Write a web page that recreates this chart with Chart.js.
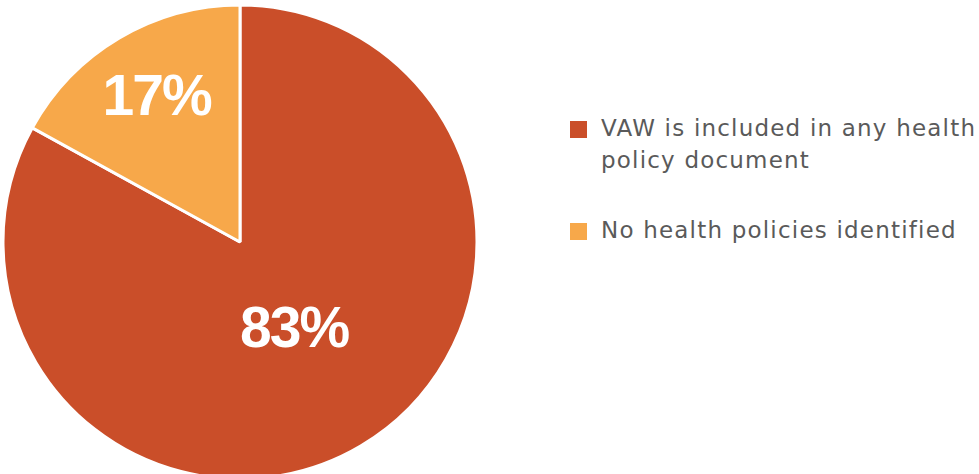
<!DOCTYPE html>
<html>
<head>
<meta charset="utf-8">
<script src="https://cdn.jsdelivr.net/npm/chart.js@4"></script>
<style>
    html, body { margin: 0; padding: 0; background: #fff; }
    #wrap { position: relative; width: 979px; height: 474px; overflow: hidden; }
    #pieBox { position: absolute; left: 0; top: 0; width: 480px; height: 474px; }
    #legend { position: absolute; left: 570px; top: 112px; font-family: "DejaVu Sans", sans-serif; font-size: 23px; letter-spacing: 1.2px; color: #5a5a5a; white-space: nowrap; }
    .item { position: relative; padding-left: 31px; line-height: 32px; margin-bottom: 38px; }
    .box { position: absolute; left: 0; top: 9px; width: 17px; height: 17px; }
</style>
</head>
<body>
<div id="wrap">
    <div id="pieBox"><canvas id="pieChart"></canvas></div>
    <div id="legend"></div>
</div>
<script>
var labels = [
    ['VAW is included in any health', 'policy document'],
    ['No health policies identified']
];
var shares = [83, 17];
var colors = ['#ca4e29', '#f7a84a'];

// how far out from the centre each percentage sits (fraction of radius)
var labelOffsets = [0.44, 0.70];

var sliceLabels = {
    id: 'sliceLabels',
    afterDatasetsDraw: function(chart) {
        var ctx = chart.ctx;
        var meta = chart.getDatasetMeta(0);
        ctx.save();
        ctx.fillStyle = '#fff';
        ctx.font = 'bold 57px "Liberation Sans", Arial, sans-serif';
        ctx.letterSpacing = '-2px';
        ctx.textAlign = 'center';
        ctx.textBaseline = 'middle';
        meta.data.forEach(function(arc, i) {
            var p = arc.getProps(['x', 'y', 'startAngle', 'endAngle', 'outerRadius'], true);
            var mid = (p.startAngle + p.endAngle) / 2;
            var r = p.outerRadius * labelOffsets[i];
            ctx.fillText(shares[i] + '%', p.x + Math.cos(mid) * r + 1, p.y + Math.sin(mid) * r);
        });
        ctx.restore();
    }
};

var pieChart = new Chart(document.getElementById('pieChart').getContext('2d'), {
    type: 'pie',
    data: {
        labels: labels,
        datasets: [{
            data: shares,
            backgroundColor: colors,
            borderColor: '#fff',
            borderWidth: 3,
            radius: 237
        }]
    },
    options: {
        responsive: true,
        maintainAspectRatio: false,
        animation: false,
        layout: { padding: { top: 10 } },
        plugins: {
            legend: { display: false },
            tooltip: { enabled: false }
        }
    },
    plugins: [sliceLabels]
});

// html legend built from the chart's own labels
var legendBox = document.getElementById('legend');
pieChart.options.plugins.legend.labels.generateLabels(pieChart).forEach(function(item) {
    var row = document.createElement('div');
    row.className = 'item';
    var box = document.createElement('span');
    box.className = 'box';
    box.style.background = item.fillStyle;
    row.appendChild(box);
    var lines = [].concat(item.text);
    lines.forEach(function(line, i) {
        if (i > 0) row.appendChild(document.createElement('br'));
        row.appendChild(document.createTextNode(line));
    });
    legendBox.appendChild(row);
});
</script>
</body>
</html>
